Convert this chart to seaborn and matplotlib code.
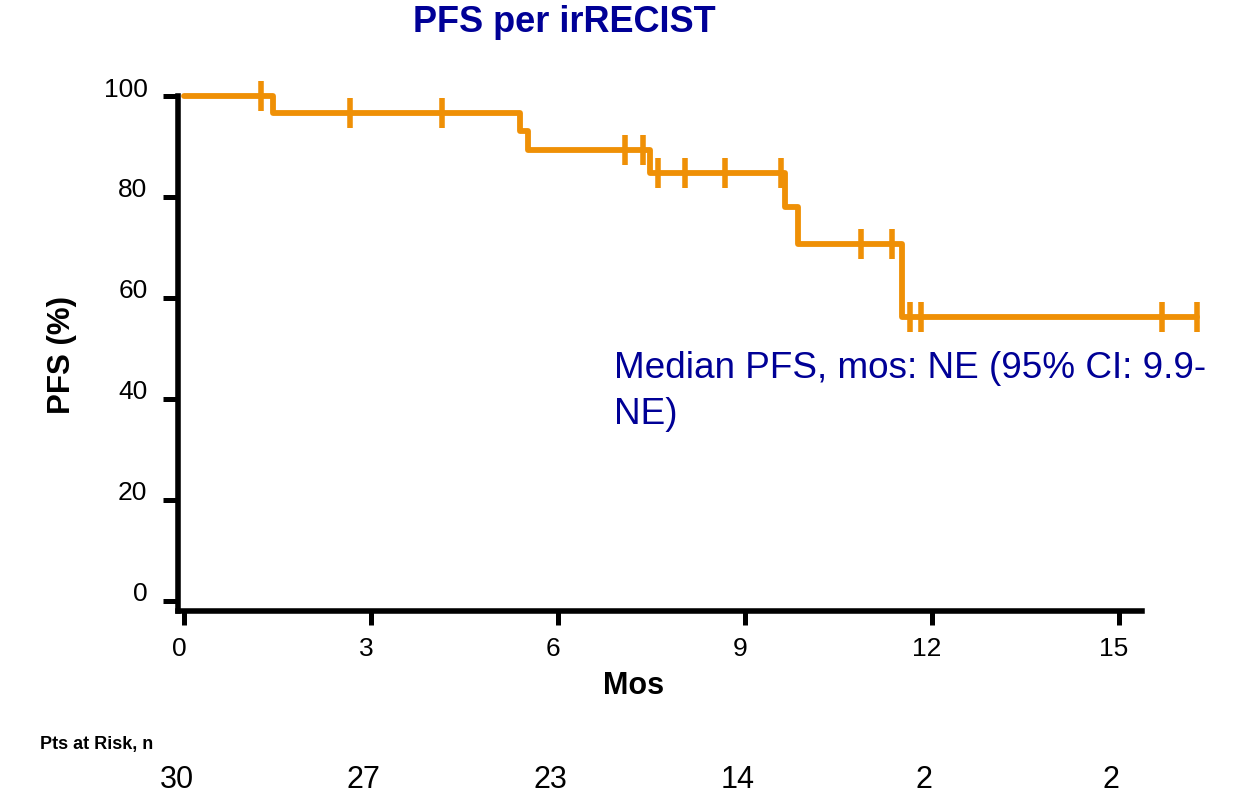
import matplotlib

matplotlib.use("Agg")
import matplotlib.pyplot as plt
import matplotlib.transforms as mtransforms
import numpy as np
import pandas as pd
import seaborn as sns

# KM step curve: month of each drop and the PFS level after it
event_months = [0.0, 1.43, 5.39, 5.52, 7.47, 9.65, 9.86, 11.53]
pfs_levels = [100.0, 96.6, 93.0, 89.3, 84.8, 78.1, 70.7, 56.2]
last_followup = 16.26
censor_months = [1.24, 2.66, 4.14, 7.08, 7.37, 7.61, 8.04, 8.68, 9.58,
                 10.87, 11.36, 11.65, 11.83, 15.70, 16.26]

xticks = [0, 3, 6, 9, 12, 15]
yticks = [0, 20, 40, 60, 80, 100]
at_risk = [30, 27, 23, 14, 2, 2]

ORANGE = "#EF9006"
NAVY = "#000096"

sns.set_theme(style="white")
plt.rcParams["font.family"] = ["Liberation Sans", "DejaVu Sans"]

W, H = 1238, 795
fig = plt.figure(figsize=(W / 100, H / 100), dpi=100)
ax = fig.add_axes([178 / W, 1 - 611 / H, 1034 / W, 515 / H])

curve = pd.DataFrame({
    "month": event_months + [last_followup],
    "pfs": pfs_levels + [pfs_levels[-1]],
})
sns.lineplot(data=curve, x="month", y="pfs", ax=ax, color=ORANGE,
             linewidth=4.2, drawstyle="steps-post", sort=False,
             estimator=None, clip_on=False)

idx = np.searchsorted(event_months, censor_months, side="right") - 1
cens = pd.DataFrame({"month": censor_months,
                     "pfs": np.array(pfs_levels)[idx]})
sns.scatterplot(data=cens, x="month", y="pfs", ax=ax, marker="|", s=480,
                linewidth=4.0, color=ORANGE, clip_on=False, zorder=3)

ax.set_xlim(-0.1, 16.5)
ax.set_ylim(-2, 100)
ax.set_xticks(xticks)
ax.set_yticks(yticks)
ax.set_xlabel("")
ax.set_ylabel("")

for s in ["top", "right"]:
    ax.spines[s].set_visible(False)
for s in ["left", "bottom"]:
    ax.spines[s].set_linewidth(4)
    ax.spines[s].set_color("black")
ax.spines["bottom"].set_bounds(-0.1, 15.38)

ax.tick_params(axis="x", length=10, width=3.6, pad=9, labelsize=19,
               direction="out", bottom=True, colors="black")
ax.tick_params(axis="y", length=11, width=3.6, pad=11, labelsize=19,
               direction="out", left=True, colors="black")
shift = mtransforms.ScaledTranslation(0, 0.09, fig.dpi_scale_trans)
for lab in ax.get_yticklabels():
    lab.set_transform(lab.get_transform() + shift)
xshift = mtransforms.ScaledTranslation(-0.05, 0, fig.dpi_scale_trans)
for lab in ax.get_xticklabels():
    lab.set_transform(lab.get_transform() + xshift)

fig.text(564 / W, 1 - 22 / H, "PFS per irRECIST", ha="center", va="center",
         fontsize=26, fontweight="bold", color=NAVY)
fig.text(62 / W, 1 - 355 / H, "PFS (%)", ha="center", va="center",
         rotation=90, fontsize=22.5, fontweight="bold", color="black")
fig.text(634 / W, 1 - 686 / H, "Mos", ha="center", va="center",
         fontsize=22, fontweight="bold", color="black")
fig.text(614 / W, 1 - 351 / H, "Median PFS, mos: NE (95% CI: 9.9-\nNE)",
         ha="left", va="top", fontsize=26.6, color=NAVY, linespacing=1.4)

fig.text(40 / W, 1 - 745 / H, "Pts at Risk, n", ha="left", va="center",
         fontsize=13, fontweight="bold", color="black")
row = mtransforms.blended_transform_factory(ax.transData, fig.transFigure)
for m, n in zip(xticks, at_risk):
    ax.text(m - 0.12, 1 - 780 / H, str(n), transform=row, ha="center",
            va="center", fontsize=22, color="black", clip_on=False)

fig.savefig("out.png", dpi=100)
plt.close(fig)
